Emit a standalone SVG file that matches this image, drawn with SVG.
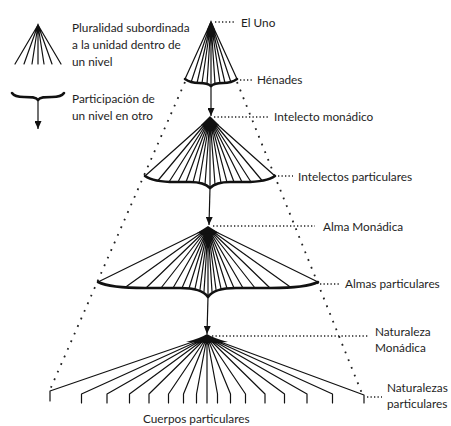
<svg xmlns="http://www.w3.org/2000/svg" width="451" height="426" viewBox="0 0 451 426">
  <style>
    .lbl { font-family: Lato, "Liberation Sans", sans-serif; font-size: 11.8px; fill: #1e1e1e; }
    .rib { fill: none; stroke: #111; stroke-width: 1.2; stroke-linecap: round; stroke-linejoin: round; }
    .base { fill: none; stroke: #111; stroke-width: 2.6; stroke-linecap: round; stroke-linejoin: round; }
    .blob { fill: #111; }
    .arrow { stroke: #111; stroke-width: 1.2; fill: none; marker-end: url(#ah); }
    .lead { stroke: #222; stroke-width: 1.3; stroke-dasharray: 1.3 2.2; fill: none; }
    .slant { stroke: #222; stroke-width: 1.8; stroke-dasharray: 1.8 6.5; fill: none; }
  </style>
  <defs>
    <marker id="ah" markerWidth="8" markerHeight="7" refX="8" refY="3.5" orient="auto" markerUnits="userSpaceOnUse">
      <path d="M0,0 L8,3.5 L0,7 Z" fill="#111"/>
    </marker>
  </defs>
  <rect width="451" height="426" fill="#fff"/>

  <!-- legend -->
  <g id="legend-plurality">
    <path class="rib" d="M38,25 L15,64 M38,25 L24,64 M38,25 L32,64 M38,25 L38,64 M38,25 L44,64 M38,25 L52,64 M38,25 L61,64"/>
    <path class="blob" d="M38,23 L41,31 L35,31 Z"/>
    <text class="lbl" x="72" y="32">Pluralidad subordinada</text>
    <text class="lbl" x="72" y="49">a la unidad dentro de</text>
    <text class="lbl" x="72" y="66">un nivel</text>
  </g>
  <g id="legend-participation">
    <path class="base" d="M12,93 C14,96 18,97 24,97 C31,97 36,97 38,100 M38,100 C40,97 45,97 52,97 C58,97 62,96 64,93"/>
    <line class="arrow" x1="38" y1="100" x2="38" y2="129"/>
    <text class="lbl" x="72" y="103">Participación de</text>
    <text class="lbl" x="72" y="120">un nivel en otro</text>
  </g>

  <!-- connectors: outer dotted envelope, participation arrows, label leaders -->
  <g id="connectors">
    <line class="slant" x1="185" y1="82" x2="49" y2="392"/>
    <line class="slant" x1="237" y1="82" x2="363" y2="396"/>
    <line class="arrow" x1="211" y1="86" x2="211" y2="116"/>
    <line class="arrow" x1="210" y1="188" x2="209" y2="225"/>
    <line class="arrow" x1="208" y1="297" x2="207" y2="334"/>
    <line class="lead" x1="215" y1="22" x2="236" y2="22"/>
    <line class="lead" x1="240" y1="80" x2="252" y2="80"/>
    <line class="lead" x1="214" y1="117" x2="268" y2="117"/>
    <line class="lead" x1="278" y1="176" x2="293" y2="176"/>
    <line class="lead" x1="213" y1="226" x2="315" y2="226"/>
    <line class="lead" x1="320" y1="284" x2="340" y2="284"/>
    <line class="lead" x1="212" y1="336" x2="368" y2="336"/>
    <line class="lead" x1="367" y1="397" x2="382" y2="397"/>
  </g>

  <!-- level 1: the One and the henads -->
  <g id="el-uno">
    <path class="rib" d="M211,22 L185,79 M211,22 L191,82.5 M211,22 L197,83 M211,22 L202,83 M211,22 L207,84 M211,22 L211,86 M211,22 L215,84 M211,22 L220,83 M211,22 L225,83 M211,22 L231,82.5 M211,22 L237,79"/>
    <path class="base" d="M185,79 C189,82 194,83 199,83 C205,83 209,84 211,86 M211,86 C213,84 217,83 223,83 C228,83 233,82 237,79"/>
    <path class="blob" d="M211,20 L215,30 L207,30 Z"/>
    <text class="lbl" x="241" y="27">El Uno</text>
    <text class="lbl" x="257" y="84">Hénades</text>
  </g>

  <!-- level 2: intellect -->
  <g id="intelecto">
    <path class="rib" d="M210,118 L145,176 M210,118 L158,180.5 M210,118 L169,182 M210,118 L178,182 M210,118 L186,182 M210,118 L193,182.3 M210,118 L199,183 M210,118 L205,184.5 M210,118 L210,188 M210,118 L215,184.5 M210,118 L221,183 M210,118 L227,182.3 M210,118 L234,182 M210,118 L242,182 M210,118 L251,182 M210,118 L262,180.5 M210,118 L275,176"/>
    <path class="base" d="M145,176 C152,181 163,182 175,182 L190,182 C200,182 206,184 210,188 M210,188 C214,184 220,182 230,182 L245,182 C257,182 268,181 275,176"/>
    <path class="blob" d="M210,116 L219,125 Q210,128 201,125 Z"/>
    <text class="lbl" x="274" y="121">Intelecto monádico</text>
    <text class="lbl" x="298" y="181">Intelectos particulares</text>
  </g>

  <!-- level 3: soul -->
  <g id="alma">
    <path class="rib" d="M208,228 L98,282 M208,228 L125,287.5 M208,228 L146,288 M208,228 L161,288 M208,228 L173,288 M208,228 L182,288 M208,228 L189,288.3 M208,228 L195,288.7 M208,228 L200,289.5 M208,228 L204,291.5 M208,228 L208,297 M208,228 L212,291.5 M208,228 L216,289.5 M208,228 L221,288.7 M208,228 L227,288.3 M208,228 L234,288 M208,228 L243,288 M208,228 L255,288 M208,228 L270,288 M208,228 L291,287.5 M208,228 L318,282"/>
    <path class="base" d="M98,282 C108,287 125,288 145,288 L180,288 C196,288 204,291 208,297 M208,297 C212,291 220,288 236,288 L271,288 C291,288 308,287 318,282"/>
    <path class="blob" d="M208,226 L219,233 Q208,235 197,233 Z"/>
    <text class="lbl" x="323" y="231">Alma Monádica</text>
    <text class="lbl" x="345" y="288">Almas particulares</text>
  </g>

  <!-- level 4: nature and bodies -->
  <g id="naturaleza">
    <path class="rib" d="M207,337 L50,391 L50,401 M207,337 L81.5,394 L81.5,403 M207,337 L107,394 L107,403 M207,337 L129.5,394 L129.5,403 M207,337 L149,394 L149,403 M207,337 L168.5,394 L168.5,403 M207,337 L183.5,394 L183.5,403 M207,337 L196.5,394 L196.5,403 M207,337 L207,403 M207,337 L217.5,394 L217.5,403 M207,337 L230.5,394 L230.5,403 M207,337 L245.5,394 L245.5,403 M207,337 L265,394 L265,403 M207,337 L284.5,394 L284.5,403 M207,337 L307,394 L307,403 M207,337 L332.5,394 L332.5,403 M207,337 L364,395 L364,403"/>
    <path class="blob" d="M207,334 Q213,338 228,342 Q207,343 186,342 Q201,338 207,334 Z"/>
    <text class="lbl" x="375" y="336">Naturaleza</text>
    <text class="lbl" x="375" y="352">Monádica</text>
    <text class="lbl" x="387" y="392">Naturalezas</text>
    <text class="lbl" x="387" y="408">particulares</text>
    <text class="lbl" x="143" y="423">Cuerpos particulares</text>
  </g>
</svg>
